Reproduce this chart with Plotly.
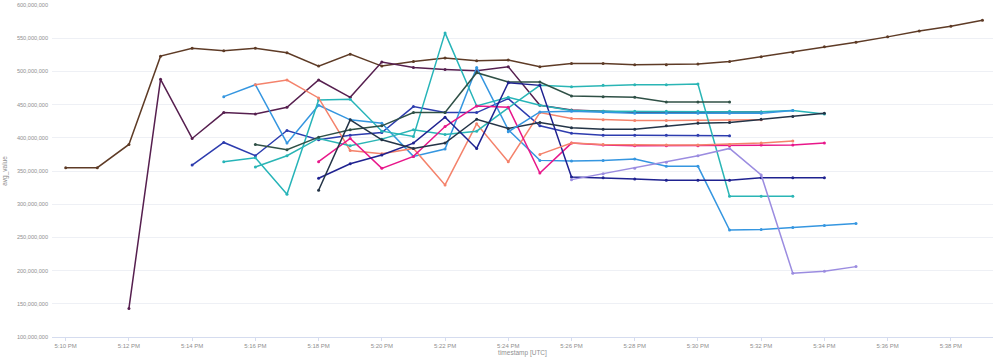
import plotly.graph_objects as go
from datetime import datetime, timedelta

# minute timestamps 5:10 PM ... 5:39 PM (UTC)
base = datetime(2024, 1, 1, 17, 10)
minutes = list(range(0, 30))
times = [base + timedelta(minutes=m) for m in minutes]

# series values (millions), with start minute offset
brown = [355, 355, 390, 523, 535, 531, 535, 528, 508, 526, 508, 515, 520, 516, 517,
         507, 512, 512, 510, 510, 511, 515, 522, 529, 537, 544, 552, 561, 568, 577]
purple = [143, 488, 399, 438, 436, 446, 487, 461, 514, 506, 503, 501, 507, 449, 442,
          440, 438, 438, 439, 439, 439]
royal = [359, 393, 373, 411, 397, 404, 408, 447, 438, 438, 459, 418, 407, 404, 404,
         404, 404, 403]
light_blue = [462, 480, 392, 449, 427, 422, 372, 383, 506, 412, 366, 365, 366, 368,
              357, 357, 261, 262, 265, 268, 271]
teal_a = [364, 370, 315, 457, 458, 410, 402, 558, 448, 461, 449, 441, 440, 440, 440,
          440, 440, 439, 441, 436]
salmon_a = [480, 487, 460, 381, 376, 384, 329, 421, 364, 438, 429, 427, 426, 426, 426,
            426, 427]
teal_b = [356, 373, 399, 388, 398, 412, 405, 410, 445, 479, 477, 479, 480, 480, 481,
          312, 312, 312]
dark_green = [390, 382, 401, 412, 418, 438, 438, 498, 484, 484, 463, 462, 461, 454,
              454, 454]
pink = [364, 399, 354, 372, 417, 448, 446, 347, 392, 389, 388, 388, 388, 388, 389,
        389, 392]
navy = [339, 361, 374, 392, 431, 384, 483, 479, 341, 340, 338, 336, 336, 336, 340,
        340, 340]
slate = [321, 427, 397, 384, 392, 428, 414, 423, 415, 413, 413, 418, 422, 423, 428,
         432, 437]
salmon_b = [375, 392, 390, 389, 389, 389, 390, 392, 395]
blue_b = [409, 439, 440, 438, 437, 437, 437, 437, 437, 441]
lavender = [337, 346, 354, 363, 373, 384, 344, 196, 199, 206]

series = [
    ("brown", brown, 0, "#5e3b26"),
    ("purple", purple, 2, "#561f4f"),
    ("royal", royal, 4, "#2d3cae"),
    ("light_blue", light_blue, 5, "#3596e0"),
    ("teal_a", teal_a, 5, "#26b4b8"),
    ("salmon_a", salmon_a, 6, "#f4826b"),
    ("teal_b", teal_b, 6, "#2ab5b5"),
    ("dark_green", dark_green, 6, "#2f5046"),
    ("pink", pink, 8, "#e8178a"),
    ("navy", navy, 8, "#1f2290"),
    ("slate", slate, 8, "#243447"),
    ("salmon_b", salmon_b, 15, "#f4826b"),
    ("blue_b", blue_b, 14, "#3596e0"),
    ("lavender", lavender, 16, "#9b8ce0"),
]

fig = go.Figure()
for name, vals, start, color in series:
    fig.add_trace(go.Scatter(
        x=times[start:start + len(vals)],
        y=[v * 1e6 for v in vals],
        mode="lines+markers",
        name=name,
        line=dict(color=color, width=1.5),
        marker=dict(color=color, size=3),
    ))

font = "Liberation Sans, Arial, sans-serif"
grey = "#8f8f8f"
fig.update_layout(
    width=998, height=363,
    margin=dict(l=52, r=5, t=5, b=26),
    paper_bgcolor="white", plot_bgcolor="white",
    showlegend=False,
    font=dict(family=font, size=6, color=grey),
    xaxis=dict(
        range=[base - timedelta(seconds=26), base + timedelta(minutes=29, seconds=20)],
        dtick=120000, tick0=base, tickformat="%-I:%M %p",
        showgrid=False, showline=True, linecolor="#d5dcef", linewidth=1,
        ticks="outside", ticklen=3, tickcolor="#d5dcef",
        tickfont=dict(family=font, size=6, color=grey),
        title=dict(text="timestamp [UTC]", font=dict(family=font, size=6.5, color=grey), standoff=2),
        zeroline=False, automargin=False,
    ),
    yaxis=dict(
        range=[100e6, 600e6], dtick=50e6, tickformat=",d",
        showgrid=True, gridcolor="#eef0f5", gridwidth=1,
        zeroline=False, showline=False,
        ticks="", ticklabelstandoff=3,
        tickfont=dict(family=font, size=5.6, color=grey),
        title=dict(text="avg_value", font=dict(family=font, size=6.5, color=grey), standoff=8),
        automargin=False,
    ),
)

fig.write_html(
    "out.html",
    config={"displayModeBar": False},
    post_script="document.body.style.margin='0px';document.body.style.overflow='hidden';",
)
